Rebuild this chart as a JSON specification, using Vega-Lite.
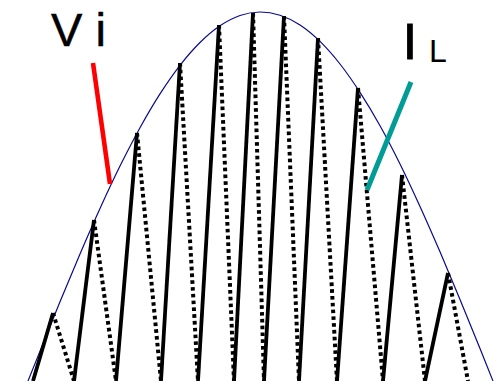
{
  "$schema": "https://vega.github.io/schema/vega-lite/v6.json",
  "width": 503,
  "height": 381,
  "autosize": {"type": "fit", "contains": "padding"},
  "padding": 0,
  "background": "white",
  "config": {"view": {"stroke": null}},
  "datasets": {
    "envelope": [
      {"t": 28, "v": 0}, {"t": 40, "v": 29.9}, {"t": 60, "v": 79.2}, {"t": 80, "v": 127.0},
      {"t": 100, "v": 172.5}, {"t": 120, "v": 214.9}, {"t": 140, "v": 253.3}, {"t": 160, "v": 287.1},
      {"t": 180, "v": 315.7}, {"t": 200, "v": 338.5}, {"t": 220, "v": 355.2}, {"t": 240, "v": 365.5},
      {"t": 260, "v": 369.0}, {"t": 280, "v": 365.8}, {"t": 300, "v": 356.0}, {"t": 320, "v": 339.6},
      {"t": 340, "v": 317.0}, {"t": 360, "v": 288.6}, {"t": 380, "v": 255.3}, {"t": 400, "v": 217.1},
      {"t": 420, "v": 174.6}, {"t": 440, "v": 129.2}, {"t": 460, "v": 81.5}, {"t": 480, "v": 32.4},
      {"t": 493, "v": 0}
    ],
    "rise": [
      {"t0": 33, "v0": 0, "t1": 53, "v1": 68},
      {"t0": 74, "v0": 0, "t1": 94, "v1": 161},
      {"t0": 116, "v0": 0, "t1": 137, "v1": 248},
      {"t0": 161, "v0": 0, "t1": 180, "v1": 318},
      {"t0": 198, "v0": 0, "t1": 219, "v1": 356},
      {"t0": 234, "v0": 0, "t1": 253, "v1": 368},
      {"t0": 264, "v0": 0, "t1": 284, "v1": 365},
      {"t0": 299, "v0": 0, "t1": 318, "v1": 343},
      {"t0": 337, "v0": 0, "t1": 358, "v1": 293},
      {"t0": 383, "v0": 0, "t1": 402, "v1": 206},
      {"t0": 425, "v0": 0, "t1": 448, "v1": 108}
    ],
    "fall": [
      {"t0": 53, "v0": 68, "t1": 74, "v1": 0},
      {"t0": 94, "v0": 161, "t1": 116, "v1": 0},
      {"t0": 137, "v0": 248, "t1": 161, "v1": 0},
      {"t0": 180, "v0": 318, "t1": 198, "v1": 0},
      {"t0": 219, "v0": 356, "t1": 234, "v1": 0},
      {"t0": 253, "v0": 368, "t1": 264, "v1": 0},
      {"t0": 284, "v0": 365, "t1": 299, "v1": 0},
      {"t0": 318, "v0": 343, "t1": 337, "v1": 0},
      {"t0": 358, "v0": 293, "t1": 383, "v1": 0},
      {"t0": 402, "v0": 206, "t1": 425, "v1": 0},
      {"t0": 448, "v0": 108, "t1": 468, "v1": 0}
    ]
  },
  "encoding": {
    "x": {"type": "quantitative", "scale": {"domain": [0, 503], "nice": false, "zero": false}, "axis": null},
    "y": {"type": "quantitative", "scale": {"domain": [0, 381], "nice": false, "zero": false}, "axis": null}
  },
  "layer": [
    {
      "data": {"name": "envelope"},
      "mark": {"type": "line", "color": "#0a0a8c", "strokeWidth": 1.2, "interpolate": "monotone", "clip": true},
      "encoding": {"x": {"field": "t"}, "y": {"field": "v"}}
    },
    {
      "data": {"name": "rise"},
      "mark": {"type": "rule", "color": "black", "strokeWidth": 3.8, "clip": true},
      "encoding": {"x": {"field": "t0"}, "y": {"field": "v0"}, "x2": {"field": "t1"}, "y2": {"field": "v1"}}
    },
    {
      "data": {"name": "fall"},
      "mark": {"type": "rule", "color": "black", "strokeWidth": 4, "strokeDash": [3.6, 3.2], "clip": true},
      "encoding": {"x": {"field": "t0"}, "y": {"field": "v0"}, "x2": {"field": "t1"}, "y2": {"field": "v1"}}
    },
    {
      "data": {"values": [{"t0": 93, "v0": 318, "t1": 110, "v1": 197}]},
      "mark": {"type": "rule", "color": "#ff0000", "strokeWidth": 4.6},
      "encoding": {"x": {"field": "t0"}, "y": {"field": "v0"}, "x2": {"field": "t1"}, "y2": {"field": "v1"}}
    },
    {
      "data": {"values": [{"t0": 411, "v0": 299, "t1": 367, "v1": 191}]},
      "mark": {"type": "rule", "color": "#009c95", "strokeWidth": 5},
      "encoding": {"x": {"field": "t0"}, "y": {"field": "v0"}, "x2": {"field": "t1"}, "y2": {"field": "v1"}}
    },
    {
      "data": {"values": [{"t": 51, "v": 335, "label": "V i"}]},
      "mark": {"type": "text", "font": "Liberation Sans", "fontSize": 47, "align": "left", "baseline": "alphabetic", "color": "black", "stroke": "black", "strokeWidth": 0.5},
      "encoding": {"x": {"field": "t"}, "y": {"field": "v"}, "text": {"field": "label"}}
    },
    {
      "data": {"values": [{"t": 403, "v": 322, "label": "I"}]},
      "mark": {"type": "text", "font": "Liberation Sans", "fontSize": 50, "align": "left", "baseline": "alphabetic", "color": "black", "stroke": "black", "strokeWidth": 1.0},
      "encoding": {"x": {"field": "t"}, "y": {"field": "v"}, "text": {"field": "label"}}
    },
    {
      "data": {"values": [{"t": 429, "v": 319, "label": "L"}]},
      "mark": {"type": "text", "font": "Liberation Sans", "fontSize": 32, "align": "left", "baseline": "alphabetic", "color": "black"},
      "encoding": {"x": {"field": "t"}, "y": {"field": "v"}, "text": {"field": "label"}}
    }
  ]
}
